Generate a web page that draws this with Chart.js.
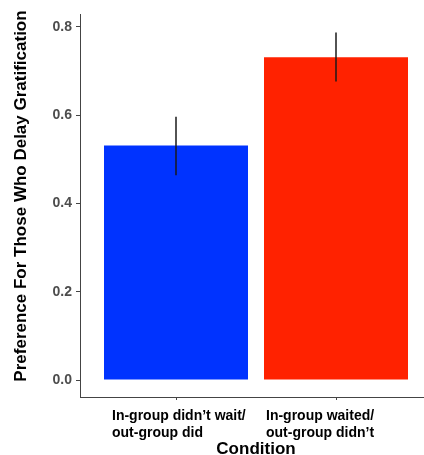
<!DOCTYPE html>
<html>
<head>
<meta charset="utf-8">
<script src="https://cdn.jsdelivr.net/npm/chart.js@4"></script>
<style>
  html, body { margin: 0; padding: 0; background: #fff; overflow: hidden; }
  #wrap { width: 440px; height: 455px; }
</style>
</head>
<body>
<div id="wrap"><canvas id="chart" width="440" height="455"></canvas></div>
<script>
// Condition labels, one array of lines per bar
let conditions = [
    ["In-group didn\u2019t wait/", "out-group did"],
    ["In-group waited/", "out-group didn\u2019t"]
];
let preference = [0.531, 0.731];
let errLow = [0.464, 0.676];
let errHigh = [0.596, 0.787];
let yTicks = [0.0, 0.2, 0.4, 0.6, 0.8];
let barColors = ['#0033ff', '#ff2200'];

// bar positions on the x scale (1, 2, ...)
let barPoints = preference.map((v, i) => ({ x: i + 1, y: v }));

let labelShift = [-64, -70];

const extras = {
    id: 'extras',
    afterDraw(chart) {
        const c = chart.ctx;
        const xs = chart.scales.x, ys = chart.scales.y;
        const area = chart.chartArea;
        c.save();
        // error bars
        c.strokeStyle = '#1a1a1a';
        c.lineWidth = 1.5;
        preference.forEach((v, i) => {
            const px = xs.getPixelForValue(i + 1);
            c.beginPath();
            c.moveTo(px, ys.getPixelForValue(errLow[i]));
            c.lineTo(px, ys.getPixelForValue(errHigh[i]));
            c.stroke();
        });
        // x tick labels
        c.fillStyle = '#000';
        c.font = 'bold 14px "Liberation Sans", Arial, sans-serif';
        c.textAlign = 'left';
        c.textBaseline = 'alphabetic';
        conditions.forEach((lines, i) => {
            const px = xs.getPixelForValue(i + 1) + labelShift[i];
            lines.forEach((t, j) => c.fillText(t, px, area.bottom + 23 + j * 17));
        });
        // axis titles
        c.font = 'bold 17px "Liberation Sans", Arial, sans-serif';
        c.textAlign = 'center';
        c.fillText('Condition', (area.left + area.right) / 2, 454);
        c.translate(26, 196);
        c.rotate(-Math.PI / 2);
        c.fillText('Preference For Those Who Delay Gratification', 0, 0);
        c.restore();
    }
};

let ctx = document.getElementById('chart').getContext('2d');
let chart = new Chart(ctx, {
    type: 'bar',
    data: {
        datasets: [{
            data: barPoints,
            backgroundColor: barColors,
            borderWidth: 0,
            barPercentage: 0.9,
            categoryPercentage: 1
        }]
    },
    options: {
        responsive: false,
        animation: false,
        layout: { padding: { top: 14, right: 8, left: 0, bottom: 0 } },
        plugins: { legend: { display: false }, tooltip: { enabled: false } },
        scales: {
            x: {
                type: 'linear',
                offset: false,
                min: 0.4,
                max: 2.6,
                afterBuildTicks: (s) => { s.ticks = conditions.map((c, i) => ({ value: i + 1 })); },
                afterFit: (s) => { s.height = 58; },
                ticks: { display: false },
                grid: { drawOnChartArea: false, offset: false, tickLength: 3, color: '#444' },
                border: { color: '#444', width: 1 }
            },
            y: {
                min: -0.0385,
                max: 0.829,
                afterBuildTicks: (s) => { s.ticks = yTicks.map(v => ({ value: v })); },
                afterFit: (s) => { s.width = 80; },
                ticks: {
                    callback: (v) => v.toFixed(1),
                    color: '#4d4d4d',
                    padding: 4,
                    font: { family: '"Liberation Sans", Arial, sans-serif', size: 14, weight: 'bold' }
                },
                grid: { drawOnChartArea: false, tickLength: 4, color: '#444' },
                border: { color: '#444', width: 1 }
            }
        }
    },
    plugins: [extras]
});
</script>
</body>
</html>
